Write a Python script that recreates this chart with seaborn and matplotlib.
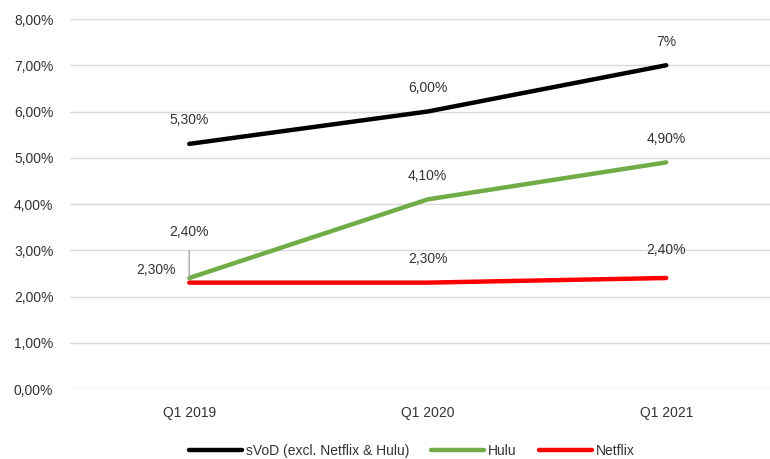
import pandas as pd
import matplotlib.pyplot as plt
import seaborn as sns

quarters = ["Q1 2019", "Q1 2020", "Q1 2021"]
svod = [5.3, 6.0, 7.0]
hulu = [2.4, 4.1, 4.9]
netflix = [2.3, 2.3, 2.4]

svod_labels = ["5,30%", "6,00%", "7%"]
hulu_labels = ["2,40%", "4,10%", "4,90%"]
netflix_labels = ["2,30%", "2,30%", "2,40%"]
y_ticks = [0, 1, 2, 3, 4, 5, 6, 7, 8]

series_names = ["sVoD (excl. Netflix & Hulu)", "Hulu", "Netflix"]

rows = []
for name, vals in zip(series_names, [svod, hulu, netflix]):
    for i, v in enumerate(vals):
        rows.append({"pos": i, "value": v, "series": name})
df = pd.DataFrame(rows)

sns.set_style("white")
plt.rcParams['font.family'] = ['Liberation Sans', 'DejaVu Sans']

fig = plt.figure(figsize=(7.7, 4.59), dpi=100)
ax = fig.add_axes([0.0909, 0.1525, 0.9091, 0.8061])

colors = {"sVoD (excl. Netflix & Hulu)": "black", "Hulu": "#70AD47", "Netflix": "#FF0000"}
sns.lineplot(data=df, x="pos", y="value", hue="series", palette=colors,
             linewidth=3.2, ax=ax, legend=False)
for line in ax.get_lines():
    line.set_solid_capstyle("round")

ax.set_xlim(-0.5, 2.435)
ax.set_ylim(0, 8)
ax.set_yticks(y_ticks)
ax.set_yticklabels([f"{t},00%" for t in y_ticks])
ax.set_xticks(range(len(quarters)))
ax.set_xticklabels(quarters)
ax.tick_params(axis="both", length=0, labelsize=10, colors="#333333", pad=12)
ax.tick_params(axis="x", pad=12)
ax.set_xlabel("")
ax.set_ylabel("")
ax.grid(axis="y", color="#D9D9D9", linewidth=1)
ax.grid(axis="x", visible=False)
for s in ax.spines.values():
    s.set_visible(False)

txt = dict(ha="center", va="center", fontsize=10, color="#333333")
for i, (v, lab) in enumerate(zip(svod, svod_labels)):
    ax.annotate(lab, (i, v), xytext=(0, 17), textcoords="offset points", **txt)
for i, (v, lab) in enumerate(zip(hulu, hulu_labels)):
    if i == 0:
        ax.annotate(lab, (i, v), xytext=(0, 33), textcoords="offset points",
                    arrowprops=dict(arrowstyle="-", color="#A6A6A6", lw=1,
                                    shrinkA=6, shrinkB=0), **txt)
    else:
        ax.annotate(lab, (i, v), xytext=(0, 17), textcoords="offset points", **txt)
for i, (v, lab) in enumerate(zip(netflix, netflix_labels)):
    if i == 0:
        ax.annotate(lab, (i, v), xytext=(-24, 9), textcoords="offset points", **txt)
    else:
        ax.annotate(lab, (i, v), xytext=(0, 20 if i == 2 else 17),
                    textcoords="offset points", **txt)

handles = [plt.Line2D([], [], color=colors[n], linewidth=3.2, solid_capstyle="round")
           for n in series_names]
fig.legend(handles, series_names, loc="lower center", bbox_to_anchor=(0.535, -0.025),
           ncol=3, frameon=False, handlelength=3.8, handletextpad=0.3,
           columnspacing=1.6, fontsize=10, labelcolor="#333333")

fig.savefig("out.png", dpi=100)
